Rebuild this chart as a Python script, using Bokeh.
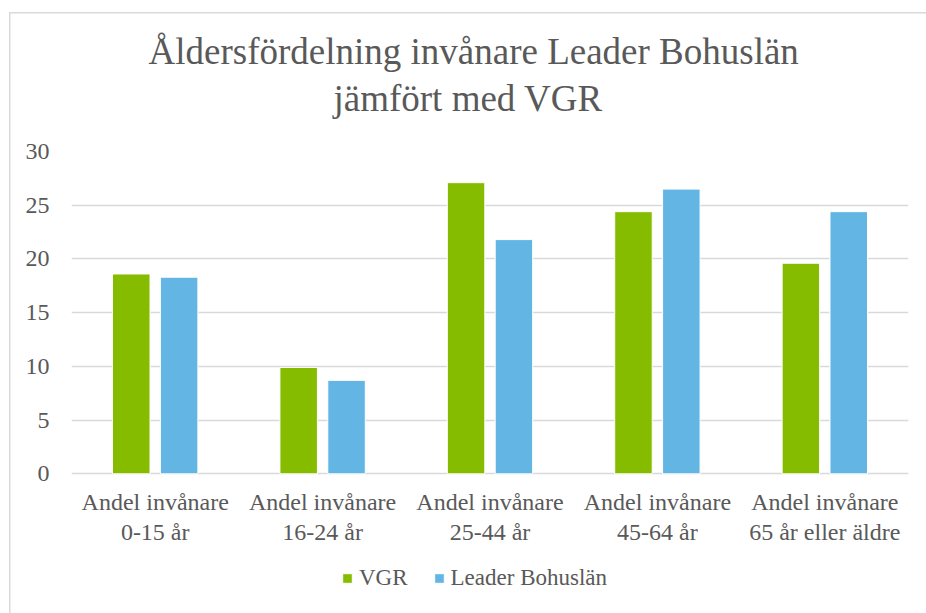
from bokeh.plotting import figure
from bokeh.models import ColumnDataSource, Title, Legend, LegendItem, FixedTicker
from bokeh.core.properties import value
from bokeh.transform import dodge
from bokeh.embed import file_html
from bokeh.resources import INLINE

categories = ["Andel invånare\n0-15 år", "Andel invånare\n16-24 år", "Andel invånare\n25-44 år",
              "Andel invånare\n45-64 år", "Andel invånare\n65 år eller äldre"]
vgr = [18.6, 9.9, 27.1, 24.4, 19.6]
leader = [18.3, 8.7, 21.8, 26.5, 24.4]
y_ticks = [0, 5, 10, 15, 20, 25, 30]
series_names = ["VGR", "Leader Bohuslän"]
title_lines = ["Åldersfördelning invånare Leader Bohuslän", "jämfört med VGR"]

FONT = "'Liberation Serif', 'Times New Roman', serif"
TXT = "#595959"
GRID = "#d9d9d9"

src = ColumnDataSource(dict(cat=categories, vgr=vgr, leader=leader))

# frame extends below the value axis so that the category labels and legend are drawn inside it
p = figure(x_range=categories, y_range=(-13.0, 30), width=926, height=613,
           output_backend="svg", toolbar_location=None,
           min_border_left=71, min_border_right=18, min_border_top=151, min_border_bottom=0)
p.title.visible = False
p.x_range.range_padding = 0
p.border_fill_alpha = 0
p.background_fill_color = "white"
p.background_fill_alpha = 0
p.styles = {
    "background-color": "white",
    "background-image": "linear-gradient(#d9d9d9,#d9d9d9), linear-gradient(#d9d9d9,#d9d9d9)",
    "background-size": "1.5px 2000px, 2000px 1.5px",
    "background-position": "9px 12px, 9px 12px",
    "background-repeat": "no-repeat",
}

r1 = p.vbar(x=dodge("cat", -0.143, range=p.x_range), top="vgr", width=0.224, source=src,
            fill_color="#86BC00", line_color="white", line_width=1)
r2 = p.vbar(x=dodge("cat", 0.143, range=p.x_range), top="leader", width=0.224, source=src,
            fill_color="#63B5E4", line_color="white", line_width=1)

p.outline_line_color = None
p.xgrid.grid_line_color = None
p.ygrid.grid_line_color = GRID
p.ygrid.grid_line_width = 1.3

p.yaxis.ticker = FixedTicker(ticks=y_ticks)
p.yaxis.axis_line_color = None
p.yaxis.major_tick_line_color = None
p.yaxis.minor_tick_line_color = None
p.yaxis.major_label_standoff = 16
p.yaxis.major_label_text_font = FONT
p.yaxis.major_label_text_font_size = "24px"
p.yaxis.major_label_text_color = TXT

p.xaxis.visible = False

# category labels under the zero line
p.text(x="cat", y=-1.45, text="cat", source=src, text_align="center", text_baseline="top",
       text_font=value(FONT), text_font_size="24px", text_color=TXT, text_line_height=1.12)

# spacer between frame and title block
p.add_layout(Title(text=" ", text_font_size="1px", standoff=25), "above")
p.add_layout(Title(text=title_lines[1], align="left", offset=262, text_font=FONT,
                   text_font_size="37px", text_color=TXT, text_font_style="normal",
                   standoff=9), "above")
p.add_layout(Title(text=title_lines[0], align="left", offset=77, text_font=FONT,
                   text_font_size="37px", text_color=TXT, text_font_style="normal",
                   standoff=0), "above")

legend = Legend(items=[LegendItem(label=series_names[0], renderers=[r1]),
                       LegendItem(label=series_names[1], renderers=[r2])],
                orientation="horizontal", location=(270, 22),
                glyph_width=12, glyph_height=12, label_standoff=6, spacing=25,
                label_text_font=FONT, label_text_font_size="23px", label_text_color=TXT,
                padding=0, margin=0, border_line_color=None, background_fill_alpha=0,
                label_height=20)
p.add_layout(legend, "center")

open("out.html", "w").write(file_html(p, INLINE))
